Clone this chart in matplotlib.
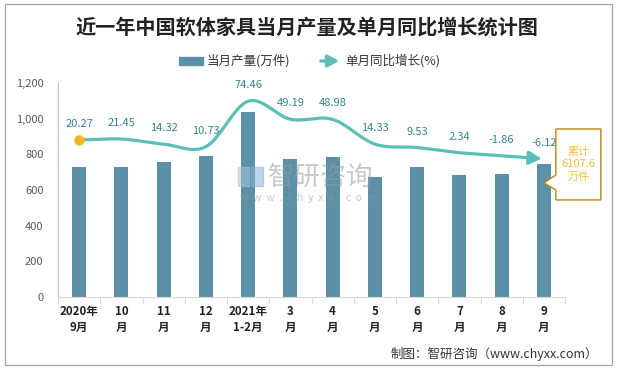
import numpy as np
import matplotlib
matplotlib.use('Agg')
import matplotlib.pyplot as plt
from matplotlib.patches import Rectangle, Polygon, FancyArrowPatch
import matplotlib.transforms as mtransforms
from matplotlib.ticker import FuncFormatter

plt.rcParams['font.family'] = ['Noto Sans CJK SC', 'DejaVu Sans']

# ---------------- data ----------------
categories = ['2020年\n9月', '10\n月', '11\n月', '12\n月', '2021年\n1-2月', '3\n月',
              '4\n月', '5\n月', '6\n月', '7\n月', '8\n月', '9\n月']
production = [730, 730, 757, 791, 1038, 774, 785, 673, 729, 684, 690, 746]
growth = [20.27, 21.45, 14.32, 10.73, 74.46, 49.19, 48.98, 14.33, 9.53, 2.34, -1.86, -6.12]
series_names = ['当月产量(万件)', '单月同比增长(%)']
title = '近一年中国软体家具当月产量及单月同比增长统计图'
callout_text = '累计\n6107.6\n万件'
source_text = '制图：智研咨询（www.chyxx.com）'

# ---------------- style ----------------
W, H = 617, 369
BAR_C = '#5B90A6'
LINE_C = '#5BBFB5'
LABEL_C = '#31848C'
MARK_C = '#F5B621'


def fx(px):
    return px / W


def fy(py):
    return 1 - py / H


fig = plt.figure(figsize=(W / 100, H / 100), dpi=100)
ax = fig.add_axes([fx(58), fy(297), (565 - 58) / W, (297 - 83) / H])

x = np.arange(len(categories))
ax.bar(x, production, width=0.33, color=BAR_C, zorder=2)
ax.set_xlim(-0.5, len(categories) - 0.5)
ax.set_ylim(0, 1200)
ax.set_yticks(np.arange(0, 1201, 200))
ax.yaxis.set_major_formatter(FuncFormatter(lambda v, p: f'{int(v):,}'))
ax.tick_params(axis='y', length=0, pad=10.5, labelsize=8, labelcolor='#595959')
ax.set_xticks(x)
ax.set_xticklabels(categories, fontsize=8.3, fontweight='bold', color='#222222',
                   linespacing=1.3)
ax.tick_params(axis='x', which='major', length=0, pad=6)
ax.set_xticks(np.arange(-0.5, len(categories), 1.0), minor=True)
ax.tick_params(axis='x', which='minor', length=5, color='#D9D9D9', width=0.8)
for s in ['top', 'right']:
    ax.spines[s].set_visible(False)
ax.spines['bottom'].set_color('#D9D9D9')
ax.spines['left'].set_color('#BFBFBF')
ax.spines['left'].set_linewidth(0.8)

# secondary axis for growth
ax2 = ax.twinx()
ax2.set_ylim(-200, 100)
ax2.set_xlim(ax.get_xlim())
ax2.axis('off')

# smooth (Catmull-Rom) curve through the points for drawing
g = np.asarray(growth, dtype=float)
xs_all, ys_all = [], []
n = len(g)
for i in range(n - 1):
    p0 = g[i - 1] if i > 0 else g[i]
    p1, p2 = g[i], g[i + 1]
    p3 = g[i + 2] if i + 2 < n else g[i + 1]
    t0 = (p2 - p0) / 2
    t1 = (p3 - p1) / 2
    c1 = p1 + t0 / 3
    c2 = p2 - t1 / 3
    t = np.linspace(0, 1, 40)
    yy = (1 - t) ** 3 * p1 + 3 * (1 - t) ** 2 * t * c1 + 3 * (1 - t) * t ** 2 * c2 + t ** 3 * p2
    xx = x[i] + t
    xs_all.extend(xx[:-1] if i < n - 2 else xx)
    ys_all.extend(yy[:-1] if i < n - 2 else yy)
xs_all = np.array(xs_all)
ys_all = np.array(ys_all)
cut = len(xs_all) - 8
ax2.plot(xs_all[:cut + 1], ys_all[:cut + 1], color=LINE_C, lw=2.3, zorder=3,
         solid_capstyle='round')
ax2.annotate('', xy=(xs_all[-1] - 0.05, ys_all[-1]), xytext=(xs_all[cut], ys_all[cut]),
             arrowprops=dict(arrowstyle='-|>,head_length=0.75,head_width=0.4',
                             color=LINE_C, lw=2.3, shrinkA=0, shrinkB=0,
                             mutation_scale=10), zorder=3)
ax2.plot([x[0]], [g[0]], 'o', color=MARK_C, ms=6.5, zorder=4)

for xi, v in zip(x, growth):
    ax2.annotate(f'{v:.2f}', (xi, v), xytext=(0, 11.5), textcoords='offset points',
                 ha='center', va='center', fontsize=8, color=LABEL_C, zorder=5)

# watermark
fig.text(fx(268), fy(177), '智研咨询', fontsize=19, color='#9A9A9A', alpha=0.55,
         ha='left', va='center', zorder=10)
fig.text(fx(308), fy(198), 'w  w  w  .  c  h  y  x  x  .  c  o  m', fontsize=7.5,
         color='#9A9A9A', alpha=0.55, ha='center', va='center', zorder=10)
fig.add_artist(Rectangle((fx(238), fy(186)), 11 / W, 19 / H, color='#A9C4DD', alpha=0.55,
                         zorder=10))
fig.add_artist(Rectangle((fx(251), fy(186)), 12 / W, 19 / H, color='#8DB3D9', alpha=0.55,
                         zorder=10))

# callout box anchored at the last bar
fig.canvas.draw()
tipx, tipy = ax.transData.transform((x[-1], production[-1]))
tipy -= 19
verts = [(0, 0), (12, 8), (12, 54), (57, 54), (57, -17), (12, -17), (12, -7)]
verts = [(tipx + a, tipy + b) for a, b in verts]
poly = Polygon(verts, closed=True, facecolor='white', edgecolor='#B8860B', lw=1.0,
               transform=mtransforms.IdentityTransform(), zorder=20)
fig.add_artist(poly)
fig.text(tipx + 34.5, tipy + 18.5, callout_text, transform=mtransforms.IdentityTransform(),
         ha='center', va='center', fontsize=8, color='#F5BF3C', linespacing=1.35,
         zorder=21)

# title
fig.text(fx(307), fy(27), title, fontsize=14.5, fontweight='bold', color='#222222',
         ha='center', va='center')

# legend (manual)
fig.add_artist(Rectangle((fx(179), fy(65)), 24 / W, 8 / H, color=BAR_C))
fig.text(fx(207), fy(61), series_names[0], fontsize=9, color='#333333', ha='left',
         va='center')
fig.add_artist(FancyArrowPatch((fx(318), fy(61)), (fx(342), fy(61)),
                               transform=fig.transFigure,
                               arrowstyle='-|>,head_length=0.75,head_width=0.4',
                               mutation_scale=9, color=LINE_C, lw=2.3))
fig.text(fx(345), fy(61), series_names[1], fontsize=9, color='#333333', ha='left',
         va='center')

# source
fig.text(fx(598), fy(354), source_text, fontsize=9, color='#333333', ha='right',
         va='center')

# border
fig.add_artist(Rectangle((fx(5), fy(365)), 607 / W, 361 / H, fill=False,
                         edgecolor='#A6A6A6', lw=0.9))

fig.savefig('out.png', dpi=100)
